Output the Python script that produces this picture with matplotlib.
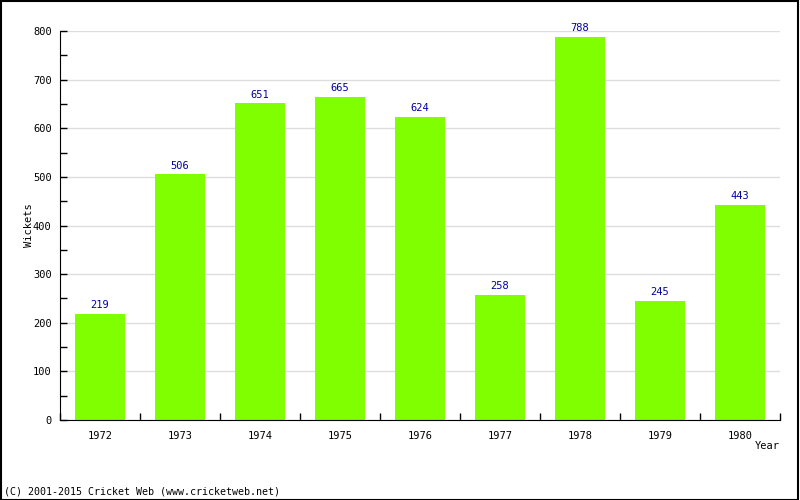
import numpy as np
import matplotlib
matplotlib.use("Agg")
import matplotlib.pyplot as plt
from matplotlib.ticker import MultipleLocator

years = ['1972', '1973', '1974', '1975', '1976', '1977', '1978', '1979', '1980']
wickets = [219, 506, 651, 665, 624, 258, 788, 245, 443]

plt.rcParams['font.family'] = 'DejaVu Sans Mono'

fig = plt.figure(figsize=(8, 5), dpi=100)
ax = fig.add_axes([0.075, 0.16, 0.9, 0.778])

x = np.arange(len(years))
ax.bar(x, wickets, width=0.62, color='#80ff00', zorder=2)
for xi, v in zip(x, wickets):
    ax.text(xi, v + 7, str(v), ha='center', va='bottom', fontsize=7.5, color='#0000a0')

ax.set_xlim(-0.5, len(years) - 0.5)
ax.set_ylim(0, 800)
ax.set_xticks(x)
ax.set_xticklabels(years)
ax.set_xticks(np.arange(len(years) + 1) - 0.5, minor=True)
ax.tick_params(axis='x', which='major', length=0, labelsize=7.5, pad=8)
ax.tick_params(axis='x', which='minor', direction='in', length=5, width=1)
ax.yaxis.set_major_locator(MultipleLocator(100))
ax.yaxis.set_minor_locator(MultipleLocator(50))
ax.tick_params(axis='y', which='major', direction='in', length=5, width=1, labelsize=7.5, pad=6)
ax.tick_params(axis='y', which='minor', direction='in', length=5, width=1)
ax.grid(axis='y', color='#dddddd', linewidth=1, zorder=0)
for s in ['top', 'right']:
    ax.spines[s].set_visible(False)

ax.set_ylabel('Wickets', fontsize=7.5)
ax.yaxis.set_label_coords(-0.036, 0.5)
fig.text(0.975, 0.108, 'Year', ha='right', va='center', fontsize=7.5)
fig.text(0.005, 0.016, '(C) 2001-2015 Cricket Web (www.cricketweb.net)', ha='left', va='center', fontsize=7.2)

fig.patches.append(plt.Rectangle((0.001, 0.001), 0.997, 0.997, transform=fig.transFigure,
                                 fill=False, edgecolor='black', linewidth=1.5))

fig.savefig('out.png', dpi=100)
